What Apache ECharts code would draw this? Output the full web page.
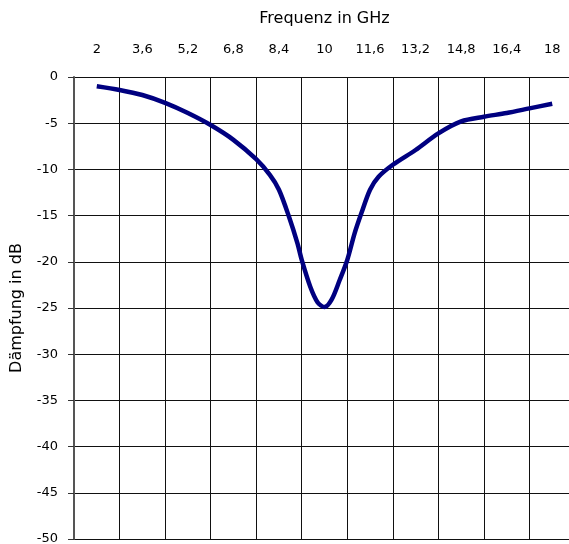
<!DOCTYPE html>
<html>
<head>
<meta charset="utf-8">
<script src="https://cdn.jsdelivr.net/npm/echarts@6/dist/echarts.min.js"></script>
<style>
  html, body { margin: 0; padding: 0; background: #fff; }
  #chart { width: 569px; height: 544px; }
</style>
</head>
<body>
<div id="chart"></div>
<script>
// Achsenbeschriftung oben (Kategorien)
var freqLabels = ['2', '3,6', '5,2', '6,8', '8,4', '10', '11,6', '13,2', '14,8', '16,4', '18'];
// Messkurve: Frequenz (GHz) / Dämpfung (dB)
var freq = [2.0, 2.8, 3.6, 4.4, 5.2, 6.0, 6.8, 7.6, 8.08, 8.4, 8.75, 9.05, 9.2, 9.5, 9.76, 10.0,
  10.25, 10.53, 10.8, 11.06, 11.3, 11.6, 11.9, 12.4, 13.2, 14.0, 14.8, 15.6, 16.4, 17.2, 18.0];
var daempfung = [-1.0, -1.4, -1.95, -2.8, -3.9, -5.2, -6.8, -8.9, -10.6, -12.2, -15.1, -18.0, -19.8, -22.7, -24.4, -24.9,
  -24.1, -22.0, -19.8, -16.9, -14.7, -12.2, -10.8, -9.5, -7.9, -6.1, -4.8, -4.3, -3.9, -3.4, -2.9];

var fontFam = '"DejaVu Sans", sans-serif';

var myChart = echarts.init(document.getElementById('chart'));
myChart.setOption({
  animation: false,
  backgroundColor: '#fff',
  grid: { left: 74, top: 77, right: -6, bottom: 5, containLabel: false, outerBoundsMode: 'none' },
  xAxis: [
    {
      type: 'category', // nur für Beschriftung und Gitter
      position: 'top',
      data: freqLabels,
      boundaryGap: true,
      name: 'Frequenz in GHz',
      nameLocation: 'middle',
      nameGap: 50,
      nameTextStyle: { color: '#000', fontSize: 16, fontFamily: fontFam },
      axisLine: { show: false },
      axisTick: { show: false },
      axisLabel: { color: '#000', fontSize: 13, fontFamily: fontFam, margin: 21, interval: 0 },
      splitLine: { show: true, interval: 0, lineStyle: { color: '#111', width: 1 } }
    },
    {
      type: 'value', // Werteachse für die Kurve
      min: 1.2,
      max: 18.8,
      show: false
    }
  ],
  yAxis: {
    type: 'value',
    min: -50,
    max: 0,
    interval: 5,
    name: 'Dämpfung in dB',
    nameLocation: 'middle',
    nameGap: 49,
    nameRotate: 90,
    nameTextStyle: { color: '#000', fontSize: 16, fontFamily: fontFam },
    axisLine: { show: true, lineStyle: { color: '#555', width: 2 } },
    axisTick: { show: true, length: 6, lineStyle: { color: '#333' } },
    axisLabel: { color: '#000', fontSize: 13, fontFamily: fontFam, margin: 16 },
    splitLine: { show: true, lineStyle: { color: '#111', width: 1 } }
  },
  series: [{
    type: 'line',
    xAxisIndex: 1,
    data: freq.map(function (f, i) { return [f, daempfung[i]]; }),
    smooth: 0.3,
    symbol: 'none',
    lineStyle: { color: '#000080', width: 4.5 }
  }]
});
</script>
</body>
</html>
